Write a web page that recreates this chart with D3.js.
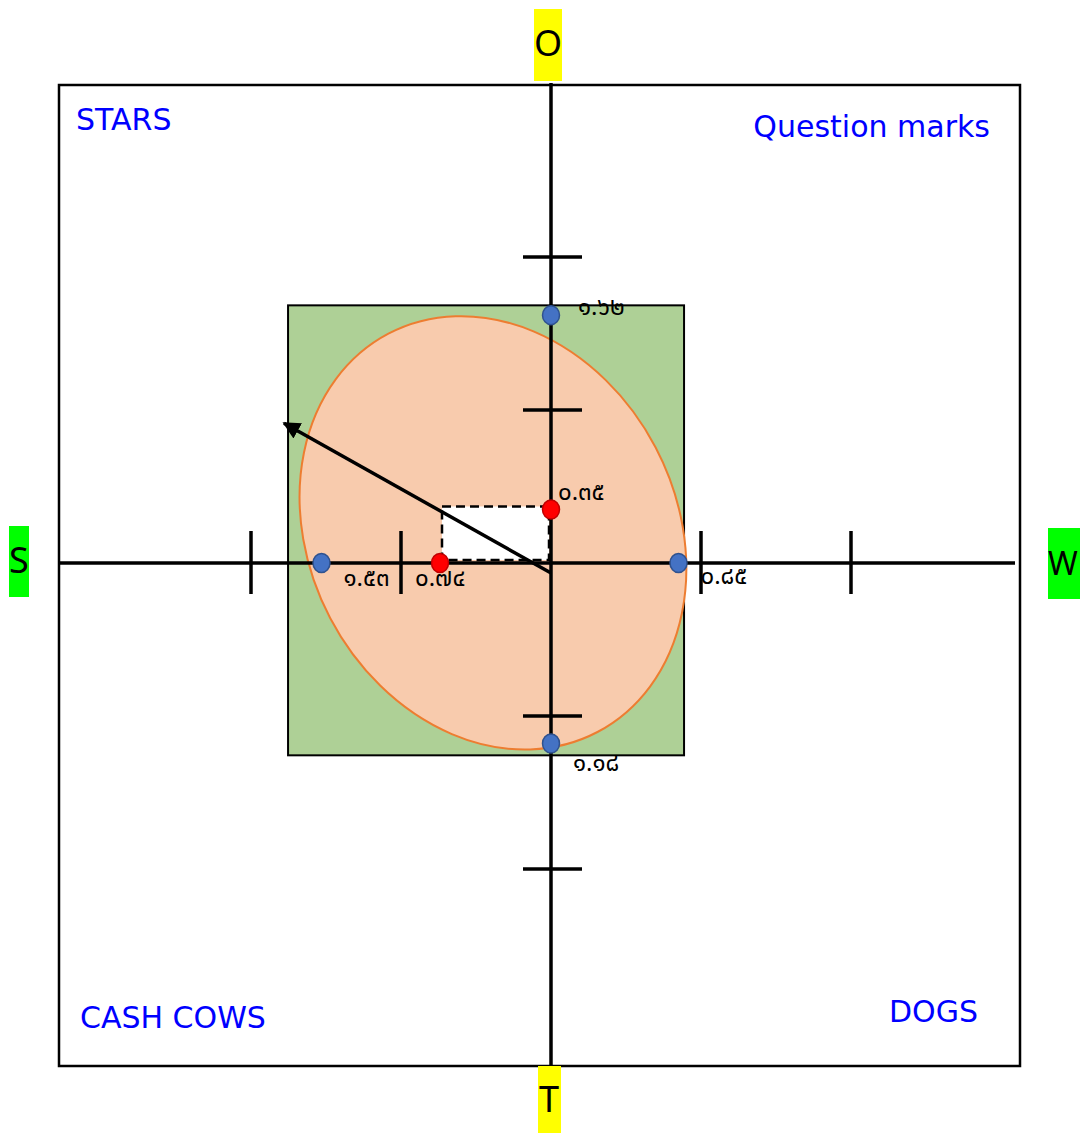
<!DOCTYPE html>
<html>
<head>
<meta charset="utf-8">
<script src="https://cdnjs.cloudflare.com/ajax/libs/d3/7.8.5/d3.min.js"></script>
<style>
  body { margin: 0; background: #fff; }
  .corner { font-family: "DejaVu Sans", "Noto Sans", sans-serif; font-size: 30px; fill: #0000ff; }
  .letter { font-family: "Noto Sans", "DejaVu Sans", sans-serif; font-size: 36px; fill: #000; }
  .val { font-family: "Noto Sans Thai", "Loma", "Garuda", "Tlwg Typo", "Sarabun", "DejaVu Sans", sans-serif; font-size: 24px; fill: #000; }
</style>
</head>
<body>
<script>
// values (units of the two axes)
var xScores = [-1.53, 0.85]          // S (left), W (right)
var yScores = [1.62, -1.18]          // O (up), T (down)
var meanPoint = [-0.74, 0.35]        // red points / dashed box corner
var tickValues = [-2, -1, 1, 2]
var arrowFrom = [0, -0.066]
var arrowTo = [-1.78, 0.914]
var greenBox = [-1.753, 0.887, -1.257, 1.684]   // x0, x1, y0, y1
var ellipseShape = [-0.387, 0.197, 1.225, 1.47, -27.7]  // cx, cy, rx, ry, angle
var quadrantNames = ['STARS', 'Question marks', 'CASH COWS', 'DOGS']
var axisLetters = ['O', 'T', 'S', 'W']

var width = 1080
var height = 1133
var cx = 551, cy = 563

var x = d3.scaleLinear().domain([-2, 2]).range([cx - 300, cx + 300])
var y = d3.scaleLinear().domain([-2, 2]).range([cy + 306, cy - 306])

var thaiDigits = '๐๑๒๓๔๕๖๗๘๙'
function toThai(v) {
	return Math.abs(v).toFixed(2).replace(/[0-9]/g, function(c) { return thaiDigits[+c] })
}

var svg = d3.select('body').append('svg')
	.attr('width', width)
	.attr('height', height)

svg.append('defs').append('marker')
	.attr('id', 'head')
	.attr('viewBox', '0 0 10 10')
	.attr('refX', 9).attr('refY', 5)
	.attr('markerWidth', 5).attr('markerHeight', 5)
	.attr('orient', 'auto')
	.append('path')
	.attr('d', 'M0,0 L10,5 L0,10 z')
	.attr('fill', '#000')

// outer frame
svg.append('rect')
	.attr('x', 59).attr('y', 85)
	.attr('width', 961).attr('height', 981)
	.attr('fill', 'none').attr('stroke', '#000').attr('stroke-width', 2.5)

// green box
svg.append('rect')
	.attr('x', x(greenBox[0])).attr('y', y(greenBox[3]))
	.attr('width', x(greenBox[1]) - x(greenBox[0]))
	.attr('height', y(greenBox[2]) - y(greenBox[3]))
	.attr('fill', '#aed096').attr('stroke', '#000').attr('stroke-width', 2)

// ellipse
var ex = x(ellipseShape[0]), ey = y(ellipseShape[1])
svg.append('ellipse')
	.attr('cx', ex).attr('cy', ey)
	.attr('rx', x(ellipseShape[2]) - x(0))
	.attr('ry', y(0) - y(ellipseShape[3]))
	.attr('transform', 'rotate(' + ellipseShape[4] + ',' + ex + ',' + ey + ')')
	.attr('fill', '#f8cbad').attr('stroke', '#ed7d31').attr('stroke-width', 2)

// dashed box between the means and the axes
svg.append('rect')
	.attr('x', x(meanPoint[0]) + 2).attr('y', y(meanPoint[1]) - 3)
	.attr('width', x(0) - x(meanPoint[0]) - 4)
	.attr('height', y(0) - y(meanPoint[1]))
	.attr('fill', '#fff').attr('stroke', '#000')
	.attr('stroke-width', 2.5).attr('stroke-dasharray', '9,5')

// axes
svg.append('line')
	.attr('x1', x(0)).attr('x2', x(0)).attr('y1', 83).attr('y2', 1066)
	.attr('stroke', '#000').attr('stroke-width', 3.5)
svg.append('line')
	.attr('x1', 59).attr('x2', 1015).attr('y1', y(0)).attr('y2', y(0))
	.attr('stroke', '#000').attr('stroke-width', 3.5)

// ticks
svg.selectAll('.xtick').data(tickValues).enter().append('line')
	.attr('x1', function(d) { return x(d) }).attr('x2', function(d) { return x(d) })
	.attr('y1', y(0) - 32).attr('y2', y(0) + 31)
	.attr('stroke', '#000').attr('stroke-width', 3.5)
svg.selectAll('.ytick').data(tickValues).enter().append('line')
	.attr('x1', x(0) - 28).attr('x2', x(0) + 31)
	.attr('y1', function(d) { return y(d) }).attr('y2', function(d) { return y(d) })
	.attr('stroke', '#000').attr('stroke-width', 3.5)

// arrow
svg.append('line')
	.attr('x1', x(arrowFrom[0])).attr('y1', y(arrowFrom[1]))
	.attr('x2', x(arrowTo[0])).attr('y2', y(arrowTo[1]))
	.attr('stroke', '#000').attr('stroke-width', 3.5)
	.attr('marker-end', 'url(#head)')

// score points (blue) and mean points (red)
var points = [
	{px: x(xScores[0]), py: y(0), v: xScores[0], dx: 22, dy: 23, c: 'blue'},
	{px: x(xScores[1]), py: y(0), v: xScores[1], dx: 22, dy: 21, c: 'blue'},
	{px: x(0), py: y(yScores[0]), v: yScores[0], dx: 27, dy: 0, c: 'blue'},
	{px: x(0), py: y(yScores[1]), v: yScores[1], dx: 22, dy: 27, c: 'blue'},
	{px: x(meanPoint[0]), py: y(0), v: meanPoint[0], dx: -25, dy: 23, c: 'red'},
	{px: x(0), py: y(meanPoint[1]), v: meanPoint[1], dx: 7, dy: -9, c: 'red'}
]

svg.selectAll('.pt').data(points).enter().append('ellipse')
	.attr('cx', function(d) { return d.px }).attr('cy', function(d) { return d.py })
	.attr('rx', 8.5).attr('ry', 9.5)
	.attr('fill', function(d) { return d.c == 'red' ? '#ff0000' : '#4472c4' })
	.attr('stroke', function(d) { return d.c == 'red' ? '#c00000' : '#2f528f' })
	.attr('stroke-width', 1.5)

svg.selectAll('.val').data(points).enter().append('text')
	.attr('class', 'val')
	.attr('x', function(d) { return d.px + d.dx })
	.attr('y', function(d) { return d.py + d.dy })
	.text(function(d) { return toThai(d.v) })

// quadrant names
var cornerPos = [[76, 130, 'start'], [990, 137, 'end'], [80, 1028, 'start'], [978, 1022, 'end']]
svg.selectAll('.corner').data(quadrantNames).enter().append('text')
	.attr('class', 'corner')
	.attr('x', function(d, i) { return cornerPos[i][0] })
	.attr('y', function(d, i) { return cornerPos[i][1] })
	.attr('text-anchor', function(d, i) { return cornerPos[i][2] })
	.text(function(d) { return d })

// axis letters on coloured tags
var letterPos = [
	{bx: 534, by: 9, bw: 28, bh: 72, tx: 548, ty: 56, fs: 36, fill: '#ffff00'},
	{bx: 538, by: 1066, bw: 23, bh: 67, tx: 549, ty: 1112, fs: 36, fill: '#ffff00'},
	{bx: 9, by: 526, bw: 20, bh: 71, tx: 19, ty: 573, fs: 36, fill: '#00ff00'},
	{bx: 1048, by: 528, bw: 32, bh: 71, tx: 1063, ty: 575, fs: 32, fill: '#00ff00'}
]
axisLetters.forEach(function(l, i) {
	var p = letterPos[i]
	svg.append('rect')
		.attr('x', p.bx).attr('y', p.by).attr('width', p.bw).attr('height', p.bh)
		.attr('fill', p.fill)
	svg.append('text')
		.attr('class', 'letter')
		.attr('x', p.tx).attr('y', p.ty)
		.attr('text-anchor', 'middle')
		.style('font-size', p.fs + 'px')
		.text(l)
})
</script>
</body>
</html>
